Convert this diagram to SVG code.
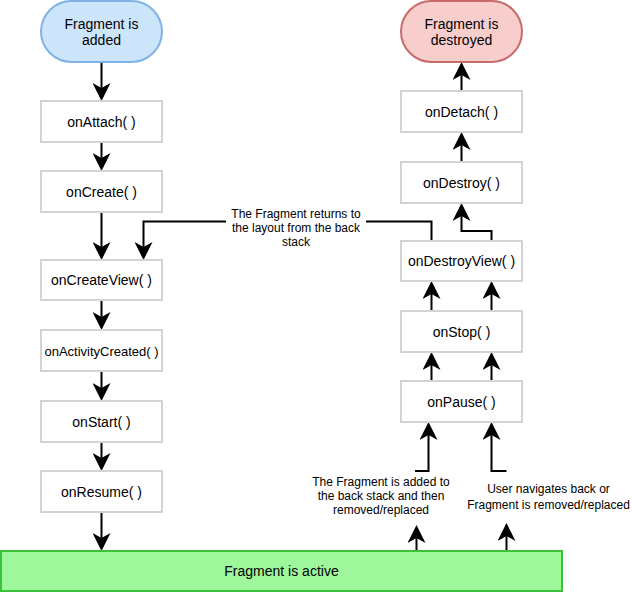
<svg xmlns="http://www.w3.org/2000/svg" width="632" height="592" viewBox="0 0 632 592">
<style>
.box{fill:#ffffff;stroke:#d3d3d3;stroke-width:2}
.t{font-family:"Liberation Sans",Arial,sans-serif;font-size:14px;fill:#000;text-anchor:middle}
.s{font-family:"Liberation Sans",Arial,sans-serif;font-size:12px;fill:#000;text-anchor:middle}
.e{fill:none;stroke:#000;stroke-width:2;marker-end:url(#arr)}
.ln{fill:none;stroke:#000;stroke-width:2}
</style>
<defs>
<marker id="arr" markerUnits="userSpaceOnUse" viewBox="0 0 18 18" markerWidth="18" markerHeight="18" refX="5" refY="9" orient="auto">
<path d="M0,0 L18,9 L0,18 L5,9 Z" fill="#000"/>
</marker>
</defs>
<rect width="632" height="592" fill="#fff"/>
<g id="connectors">
<path class="e" d="M101.5,62 V88"/>
<path class="e" d="M101.5,142 V158"/>
<path class="e" d="M101.5,212 V247"/>
<path class="e" d="M101.5,300 V317"/>
<path class="e" d="M101.5,371 V388"/>
<path class="e" d="M101.5,442 V458"/>
<path class="e" d="M101.5,512 V538"/>
<path class="e" d="M431.5,241 V221.5 H143.5 V247"/>
<path class="e" d="M461.5,91 V75"/>
<path class="e" d="M461.5,162 V145"/>
<path class="e" d="M491.5,241 V231 H461.5 V216"/>
<path class="e" d="M431.5,311 V294"/>
<path class="e" d="M491.5,311 V294"/>
<path class="e" d="M431.5,381 V365"/>
<path class="e" d="M491.5,381 V365"/>
<path class="e" d="M415,471 H428.5 V435"/>
<path class="e" d="M506.5,471 H491.5 V435"/>
<path class="e" d="M416.5,551 V538"/>
<path class="e" d="M506.5,551 V536"/>
<g id="label-return">
<rect x="226" y="205" width="140" height="42" fill="#fff"/>
<text class="s" x="296" y="218">The Fragment returns to</text>
<text class="s" x="296" y="232">the layout from the back</text>
<text class="s" x="296" y="246">stack</text>
</g>
<g id="label-backstack">
<text class="s" x="381" y="486">The Fragment is added to</text>
<text class="s" x="381" y="500">the back stack and then</text>
<text class="s" x="381" y="514">removed/replaced</text>
</g>
<g id="label-back">
<text class="s" x="548.5" y="493">User navigates back or</text>
<text class="s" x="548.5" y="509">Fragment is removed/replaced</text>
</g>
</g>
<g id="fragment-added">
<rect x="41" y="1" width="121" height="61" rx="30.5" ry="30.5" fill="#cce5fb" stroke="#7fb2e5" stroke-width="2"/>
<text class="t" x="101.5" y="29">Fragment is</text>
<text class="t" x="101.5" y="45">added</text>
</g>
<g id="onAttach"><rect class="box" x="41" y="101" width="121" height="41"/><text class="t" x="101.5" y="126.5">onAttach( )</text></g>
<g id="onCreate"><rect class="box" x="41" y="171" width="121" height="41"/><text class="t" x="101.5" y="196.5">onCreate( )</text></g>
<g id="onCreateView"><rect class="box" x="41" y="260" width="121" height="40"/><text class="t" x="101.5" y="285">onCreateView( )</text></g>
<g id="onActivityCreated"><rect class="box" x="41" y="330" width="121" height="41"/><text class="t" x="101.5" y="355.5" style="font-size:13px">onActivityCreated( )</text></g>
<g id="onStart"><rect class="box" x="41" y="401" width="121" height="41"/><text class="t" x="101.5" y="426.5">onStart( )</text></g>
<g id="onResume"><rect class="box" x="41" y="471" width="121" height="41"/><text class="t" x="101.5" y="496.5">onResume( )</text></g>
<g id="fragment-destroyed">
<rect x="401" y="1" width="121" height="61" rx="30.5" ry="30.5" fill="#f8cecc" stroke="#c86a6a" stroke-width="2"/>
<text class="t" x="461.5" y="29">Fragment is</text>
<text class="t" x="461.5" y="45">destroyed</text>
</g>
<g id="onDetach"><rect class="box" x="401" y="91" width="121" height="41"/><text class="t" x="461.5" y="116.5">onDetach( )</text></g>
<g id="onDestroy"><rect class="box" x="401" y="162" width="121" height="41"/><text class="t" x="461.5" y="187.5">onDestroy( )</text></g>
<g id="onDestroyView"><rect class="box" x="401" y="241" width="121" height="40"/><text class="t" x="461.5" y="266">onDestroyView( )</text></g>
<g id="onStop"><rect class="box" x="401" y="311" width="121" height="41"/><text class="t" x="461.5" y="336.5">onStop( )</text></g>
<g id="onPause"><rect class="box" x="401" y="381" width="121" height="41"/><text class="t" x="461.5" y="406.5">onPause( )</text></g>
<g id="fragment-active">
<rect x="1" y="551" width="561" height="40" fill="#9ef79b" stroke="#3cc13c" stroke-width="2"/>
<text class="t" x="281.5" y="576">Fragment is active</text>
</g>
</svg>
